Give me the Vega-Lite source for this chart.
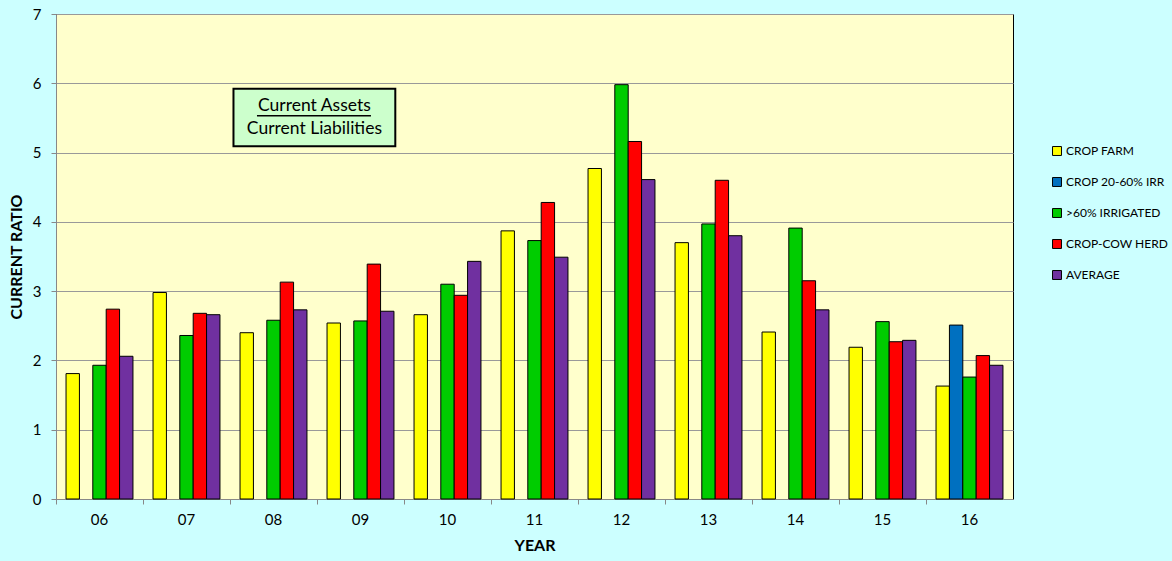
{
  "$schema": "https://vega.github.io/schema/vega-lite/v6.json",
  "width": 957,
  "height": 485,
  "autosize": {"type": "none"},
  "padding": {"left": 56, "top": 14, "right": 159, "bottom": 62},
  "background": "#CCFFFF",
  "config": {
    "view": {"fill": "#FFFFCC", "stroke": "#000000", "strokeWidth": 1},
    "font": "Lato"
  },
  "datasets": {
    "bars": [
      {"year": "06", "series": "CROP FARM", "value": 1.81},
      {"year": "06", "series": ">60% IRRIGATED", "value": 1.93},
      {"year": "06", "series": "CROP-COW HERD", "value": 2.74},
      {"year": "06", "series": "AVERAGE", "value": 2.06},
      {"year": "07", "series": "CROP FARM", "value": 2.98},
      {"year": "07", "series": ">60% IRRIGATED", "value": 2.36},
      {"year": "07", "series": "CROP-COW HERD", "value": 2.68},
      {"year": "07", "series": "AVERAGE", "value": 2.66},
      {"year": "08", "series": "CROP FARM", "value": 2.40},
      {"year": "08", "series": ">60% IRRIGATED", "value": 2.58},
      {"year": "08", "series": "CROP-COW HERD", "value": 3.13},
      {"year": "08", "series": "AVERAGE", "value": 2.73},
      {"year": "09", "series": "CROP FARM", "value": 2.54},
      {"year": "09", "series": ">60% IRRIGATED", "value": 2.57},
      {"year": "09", "series": "CROP-COW HERD", "value": 3.39},
      {"year": "09", "series": "AVERAGE", "value": 2.71},
      {"year": "10", "series": "CROP FARM", "value": 2.66},
      {"year": "10", "series": ">60% IRRIGATED", "value": 3.10},
      {"year": "10", "series": "CROP-COW HERD", "value": 2.94},
      {"year": "10", "series": "AVERAGE", "value": 3.43},
      {"year": "11", "series": "CROP FARM", "value": 3.87},
      {"year": "11", "series": ">60% IRRIGATED", "value": 3.73},
      {"year": "11", "series": "CROP-COW HERD", "value": 4.28},
      {"year": "11", "series": "AVERAGE", "value": 3.49},
      {"year": "12", "series": "CROP FARM", "value": 4.77},
      {"year": "12", "series": ">60% IRRIGATED", "value": 5.98},
      {"year": "12", "series": "CROP-COW HERD", "value": 5.16},
      {"year": "12", "series": "AVERAGE", "value": 4.61},
      {"year": "13", "series": "CROP FARM", "value": 3.70},
      {"year": "13", "series": ">60% IRRIGATED", "value": 3.97},
      {"year": "13", "series": "CROP-COW HERD", "value": 4.60},
      {"year": "13", "series": "AVERAGE", "value": 3.80},
      {"year": "14", "series": "CROP FARM", "value": 2.41},
      {"year": "14", "series": ">60% IRRIGATED", "value": 3.91},
      {"year": "14", "series": "CROP-COW HERD", "value": 3.15},
      {"year": "14", "series": "AVERAGE", "value": 2.73},
      {"year": "15", "series": "CROP FARM", "value": 2.19},
      {"year": "15", "series": ">60% IRRIGATED", "value": 2.56},
      {"year": "15", "series": "CROP-COW HERD", "value": 2.27},
      {"year": "15", "series": "AVERAGE", "value": 2.29},
      {"year": "16", "series": "CROP FARM", "value": 1.63},
      {"year": "16", "series": "CROP 20-60% IRR", "value": 2.51},
      {"year": "16", "series": ">60% IRRIGATED", "value": 1.76},
      {"year": "16", "series": "CROP-COW HERD", "value": 2.07},
      {"year": "16", "series": "AVERAGE", "value": 1.93}
    ],
    "note": [{"x0": 2.04, "x1": 3.9, "y0": 5.09, "y1": 5.92}],
    "noteText": [
      {"tx": 2.97, "ty": 5.67, "label": "Current Assets"},
      {"tx": 2.97, "ty": 5.34, "label": "Current Liabilities"}
    ],
    "underline": [{"x0": 2.31, "x1": 3.62, "y": 5.53}]
  },
  "layer": [
    {
      "data": {"name": "bars"},
      "mark": {"type": "bar", "stroke": "#000000", "strokeWidth": 1},
      "encoding": {
        "x": {
          "field": "year",
          "type": "nominal",
          "title": "YEAR",
          "scale": {"paddingInner": 0, "paddingOuter": 0},
          "axis": {
            "bandPosition": 0,
            "labelAngle": 0,
            "labelFontSize": 15,
            "labelColor": "#000000",
            "labelPadding": 8,
            "domainColor": "#888888",
            "tickColor": "#888888",
            "tickSize": 5,
            "grid": false,
            "titleFontSize": 16,
            "titleFontWeight": "bold",
            "titleColor": "#000000",
            "titlePadding": 10
          }
        },
        "xOffset": {
          "field": "series",
          "type": "nominal",
          "scale": {
            "domain": ["CROP FARM", "CROP 20-60% IRR", ">60% IRRIGATED", "CROP-COW HERD", "AVERAGE"],
            "paddingInner": 0,
            "paddingOuter": 0.75
          }
        },
        "y": {
          "field": "value",
          "type": "quantitative",
          "title": "CURRENT RATIO",
          "scale": {"domain": [0, 7], "nice": false},
          "axis": {
            "values": [0, 1, 2, 3, 4, 5, 6, 7],
            "format": "d",
            "grid": true,
            "labelFontSize": 15,
            "labelColor": "#000000",
            "labelPadding": 10,
            "domainColor": "#888888",
            "tickColor": "#888888",
            "tickSize": 5,
            "gridColor": "#999999",
            "gridWidth": 1.2,
            "titleFontSize": 16,
            "titleFontWeight": "bold",
            "titleColor": "#000000",
            "titlePadding": 8
          }
        },
        "color": {
          "field": "series",
          "type": "nominal",
          "scale": {
            "domain": ["CROP FARM", "CROP 20-60% IRR", ">60% IRRIGATED", "CROP-COW HERD", "AVERAGE"],
            "range": ["#FFFF00", "#0070C0", "#00CC00", "#FF0000", "#7030A0"]
          },
          "legend": {
            "orient": "none",
            "legendX": 995,
            "legendY": 131,
            "title": null,
            "symbolType": "square",
            "symbolSize": 80,
            "symbolStrokeColor": "#000000",
            "symbolStrokeWidth": 1,
            "labelFontSize": 12,
            "labelColor": "#000000",
            "labelOffset": 3,
            "rowPadding": 17
          }
        }
      }
    },
    {
      "data": {"name": "note"},
      "mark": {"type": "rect", "fill": "#CCFFCC", "stroke": "#000000", "strokeWidth": 2},
      "encoding": {
        "x": {"field": "x0", "type": "quantitative", "scale": {"domain": [0, 11], "nice": false, "zero": false}, "axis": null},
        "x2": {"field": "x1"},
        "y": {"field": "y0", "type": "quantitative"},
        "y2": {"field": "y1"}
      }
    },
    {
      "data": {"name": "noteText"},
      "mark": {"type": "text", "fontSize": 17.5, "color": "#000000", "align": "center", "baseline": "middle"},
      "encoding": {
        "x": {"field": "tx", "type": "quantitative", "scale": {"domain": [0, 11], "nice": false, "zero": false}, "axis": null},
        "y": {"field": "ty", "type": "quantitative"},
        "text": {"field": "label", "type": "nominal"}
      }
    },
    {
      "data": {"name": "underline"},
      "mark": {"type": "rule", "color": "#000000", "strokeWidth": 1.5},
      "encoding": {
        "x": {"field": "x0", "type": "quantitative", "scale": {"domain": [0, 11], "nice": false, "zero": false}, "axis": null},
        "x2": {"field": "x1"},
        "y": {"field": "y", "type": "quantitative"}
      }
    }
  ],
  "resolve": {"scale": {"x": "independent"}}
}
